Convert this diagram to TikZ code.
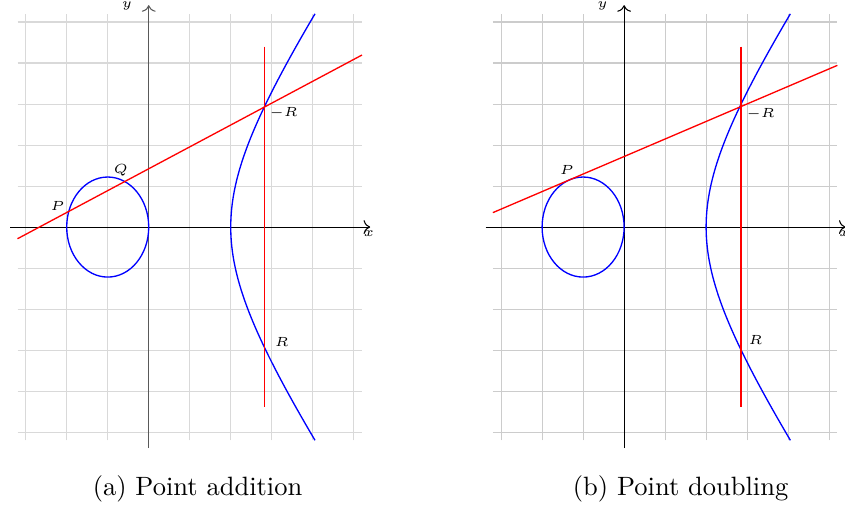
\documentclass[tikz,border=0pt]{standalone}
\usepackage{amsmath}
\usepackage{tikz}
\usetikzlibrary{arrows.meta}

\begin{document}
\begin{tikzpicture}[
    x=0.5437cm, y=0.5437cm,
    lbl/.style={font=\tiny, inner sep=1.5pt},
    gridline/.style={gray!30, line width=0.4pt, step=1},
    axis/.style={->, black, line width=0.4pt},
    curve/.style={blue, line width=0.5pt},
    secant/.style={red, line width=0.5pt}
]
    \useasboundingbox (-3.627,-6.854) rectangle (16.98,5.537);

    % (a) Point addition
    \begin{scope}
        \draw[gridline] (-3.2,-5.2) grid (5.2,5.2);

        % Axes
        \coordinate (xa0) at (-3.38,0);
        \coordinate (xa1) at (5.4,0);
        \coordinate (ya0) at (0,-5.39);
        \coordinate (ya1) at (0,5.41);
        \draw[axis] (xa0) -- (xa1);
        \draw[axis, black!65] (ya0) -- (ya1);
        \node[lbl] (xlabA) at (5.37,-0.16) {$x$};
        \node[lbl] (ylabA) at (-0.53,5.4) {$y$};

        % Curve
        \draw[curve] (-1,0) ellipse [x radius=1, y radius=1.22];
        \draw[curve] plot[domain=-5.2:5.2, samples=90, smooth] ({sqrt(4+0.46*\x*\x)}, \x);

        % Coordinates
        \coordinate (la0) at (-3.2,-0.285);
        \coordinate (la1) at (5.2,4.195);
        \coordinate (va0) at (2.83,4.4);
        \coordinate (va1) at (2.83,-4.4);
        \coordinate (Pa) at (-1.96,0.37);
        \coordinate (Qa) at (-0.61,1.10);
        \coordinate (mRa) at (2.83,2.93);
        \coordinate (Ra) at (2.83,-2.93);

        % Lines
        \draw[secant] (la0) -- (la1);
        \draw[secant] (va0) -- (va1);

        % Labels
        \node[lbl, above left, inner xsep=1.2pt, inner ysep=0.3pt] (labPa) at (Pa) {$P$};
        \node[lbl, above, inner sep=2.2pt, xshift=-1.1pt] (labQa) at (Qa) {$Q$};
        \node[lbl, below right, inner xsep=1.6pt, inner ysep=0pt] (labmRa) at (mRa) {$-R$};
        \node[lbl, above right, inner xsep=3.6pt, inner ysep=0.2pt] (labRa) at (Ra) {$R$};

        \node (capA) at (1.19,-6.38) {(a) Point addition};
    \end{scope}

    % (b) Point doubling
    \begin{scope}[shift={(11.593,0)}]
        \draw[gridline, gray!40] (-3.2,-5.2) grid (5.2,5.2);

        % Axes
        \coordinate (xb0) at (-3.38,0);
        \coordinate (xb1) at (5.4,0);
        \coordinate (yb0) at (0,-5.39);
        \coordinate (yb1) at (0,5.41);
        \draw[axis] (xb0) -- (xb1);
        \draw[axis] (yb0) -- (yb1);
        \node[lbl] (xlabB) at (5.37,-0.16) {$x$};
        \node[lbl] (ylabB) at (-0.53,5.4) {$y$};

        % Curve
        \draw[curve] (-1,0) ellipse [x radius=1, y radius=1.22];
        \draw[curve] plot[domain=-5.2:5.2, samples=90, smooth] ({sqrt(4+0.46*\x*\x)}, \x);

        % Coordinates
        \coordinate (lb0) at (-3.2,0.352);
        \coordinate (lb1) at (5.2,3.943);
        \coordinate (vb0) at (2.85,4.4);
        \coordinate (vb1) at (2.85,-4.4);
        \coordinate (Pb) at (-1.33,1.15);
        \coordinate (mRb) at (2.85,2.95);
        \coordinate (Rb) at (2.85,-2.95);

        % Lines
        \draw[secant] (lb0) -- (lb1);
        \draw[secant] (vb0) -- (vb1);

        % Labels
        \node[lbl, above, inner sep=1.9pt, xshift=-1pt] (labPb) at (Pb) {$P$};
        \node[lbl, below right, inner xsep=1.9pt, inner ysep=0.6pt] (labmRb) at (mRb) {$-R$};
        \node[lbl, above right, inner xsep=2.7pt, inner ysep=1pt] (labRb) at (Rb) {$R$};

        \node (capB) at (1.378,-6.38) {(b) Point doubling};
    \end{scope}
\end{tikzpicture}
\end{document}
